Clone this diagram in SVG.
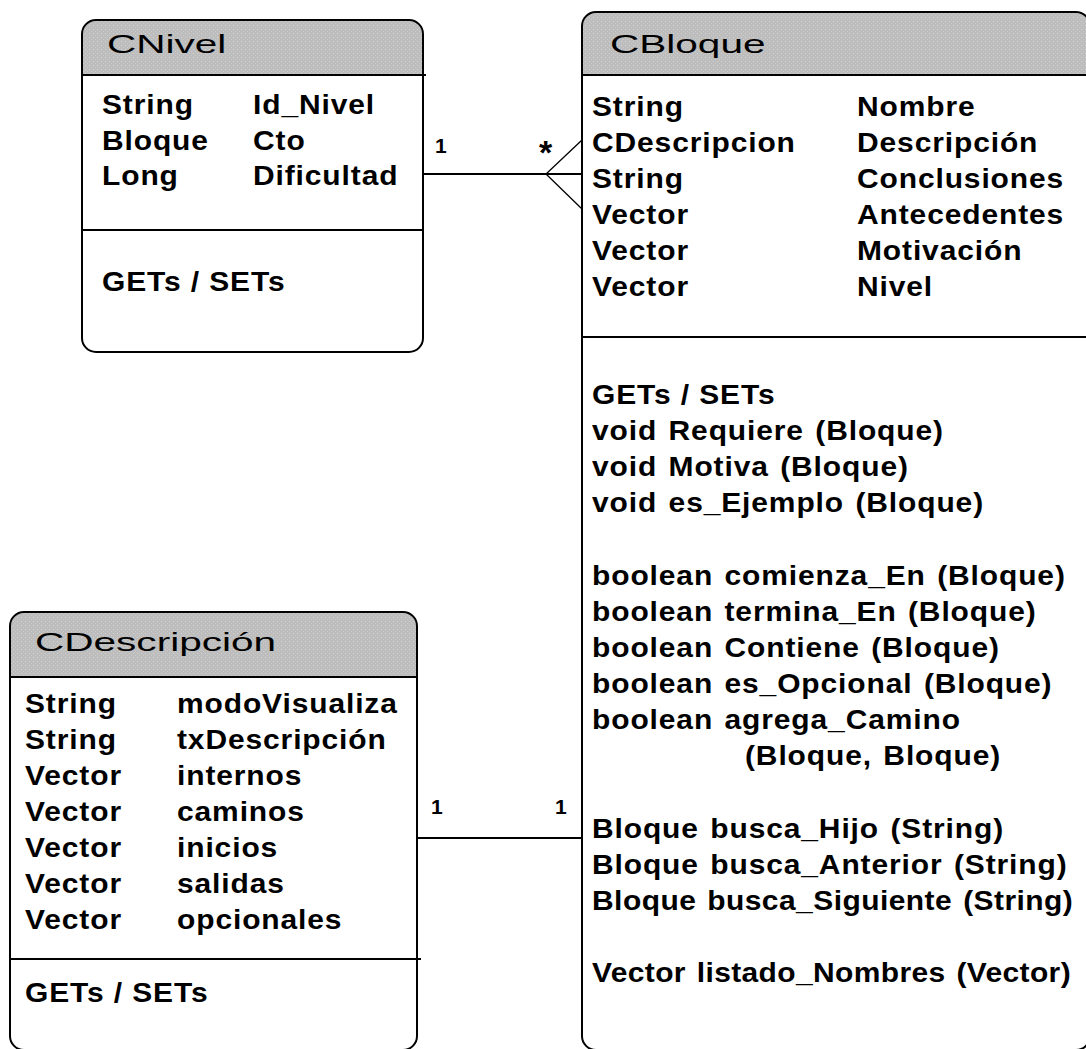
<svg xmlns="http://www.w3.org/2000/svg" width="1086" height="1049" viewBox="0 0 1086 1049">
  <defs>
    <!-- stippled grey used for the class name bars -->
    <pattern id="stipple" width="4" height="4" patternUnits="userSpaceOnUse">
      <rect width="4" height="4" fill="#bdbdbd"/>
      <rect x="1" y="1" width="1" height="1" fill="#d2d2d2"/>
      <rect x="3" y="3" width="1" height="1" fill="#cacaca"/>
    </pattern>
  </defs>
  <style>
    .box { fill: none; stroke: #000000; stroke-width: 2; }
    .bg { fill: #ffffff; stroke: none; }
    .head { fill: url(#stipple); stroke: none; }
    .rule { stroke: #000000; stroke-width: 2; fill: none; }
    .title { font-family: "Liberation Sans", Arial, sans-serif; font-size: 26px; fill: #000000; }
    .txt { font-family: "Liberation Sans", Arial, sans-serif; font-size: 27px; font-weight: bold; fill: #000000; letter-spacing: 0.8px; }
    .op { word-spacing: 2px; }
    .link { stroke: #000000; stroke-width: 2; fill: none; }
    .foot { stroke: #000000; stroke-width: 1.3; fill: none; }
    .mult { font-family: "Liberation Sans", Arial, sans-serif; font-size: 21px; font-weight: bold; fill: #000000; }
    .star { font-family: "Liberation Sans", Arial, sans-serif; font-size: 34px; font-weight: bold; fill: #000000; }
  </style>

  <rect width="1086" height="1049" fill="#ffffff"/>

  <!-- associations -->
  <g id="connectors">
    <line class="link" x1="423" y1="174" x2="582" y2="174"/>
    <polyline class="foot" points="582,140 546,174 582,209"/>
    <text class="mult" x="435" y="153">1</text>
    <text class="star" x="539" y="164">*</text>

    <line class="link" x1="417" y1="838" x2="582" y2="838"/>
    <text class="mult" x="431" y="814">1</text>
    <text class="mult" x="555" y="814">1</text>
  </g>

  <!-- class CNivel -->
  <g id="CNivel">
    <rect class="bg" x="82" y="20" width="341" height="332" rx="14" ry="14"/>
    <path class="head" d="M83,75 V34 Q83,21 96,21 H409 Q422,21 422,34 V75 Z"/>
    <rect class="box" x="82" y="20" width="341" height="332" rx="14" ry="14"/>
    <line class="rule" x1="82" y1="75" x2="426" y2="75"/>
    <line class="rule" x1="82" y1="230" x2="423" y2="230"/>
    <text class="title" transform="translate(107 53) scale(1.56 1)">CNivel</text>
    <g transform="translate(102 0) scale(1.11 1)">
      <text class="txt" y="114">String</text>
      <text class="txt" y="150">Bloque</text>
      <text class="txt" y="185">Long</text>
      <text class="txt" y="291">GETs / SETs</text>
    </g>
    <g transform="translate(253 0) scale(1.11 1)">
      <text class="txt" y="114">Id_Nivel</text>
      <text class="txt" y="150">Cto</text>
      <text class="txt" y="185">Dificultad</text>
    </g>
  </g>

  <!-- class CBloque -->
  <g id="CBloque">
    <rect class="bg" x="582" y="12" width="508" height="1038" rx="14" ry="14"/>
    <path class="head" d="M583,75 V26 Q583,13 596,13 H1076 Q1089,13 1089,26 V75 Z"/>
    <rect class="box" x="582" y="12" width="508" height="1038" rx="14" ry="14"/>
    <line class="rule" x1="582" y1="75" x2="1090" y2="75"/>
    <line class="rule" x1="582" y1="337" x2="1090" y2="337"/>
    <text class="title" transform="translate(610 53) scale(1.56 1)">CBloque</text>

    <g transform="translate(592 0) scale(1.11 1)">
      <text class="txt" y="116">String</text>
      <text class="txt" y="152">CDescripcion</text>
      <text class="txt" y="188">String</text>
      <text class="txt" y="224">Vector</text>
      <text class="txt" y="260">Vector</text>
      <text class="txt" y="296">Vector</text>

      <text class="txt" y="404">GETs / SETs</text>
      <text class="txt op" y="440">void Requiere (Bloque)</text>
      <text class="txt op" y="476">void Motiva (Bloque)</text>
      <text class="txt op" y="512">void es_Ejemplo (Bloque)</text>

      <text class="txt op" y="585">boolean comienza_En (Bloque)</text>
      <text class="txt op" y="621">boolean termina_En (Bloque)</text>
      <text class="txt op" y="657">boolean Contiene (Bloque)</text>
      <text class="txt op" y="693">boolean es_Opcional (Bloque)</text>
      <text class="txt op" y="729">boolean agrega_Camino</text>

      <text class="txt op" y="838">Bloque busca_Hijo (String)</text>
      <text class="txt op" y="874">Bloque busca_Anterior (String)</text>
      <text class="txt op" y="910" textLength="434" lengthAdjust="spacing">Bloque busca_Siguiente (String)</text>

      <text class="txt op" y="982" textLength="432" lengthAdjust="spacing">Vector listado_Nombres (Vector)</text>
    </g>
    <g transform="translate(745 0) scale(1.11 1)">
      <text class="txt op" y="765">(Bloque, Bloque)</text>
    </g>
    <g transform="translate(857 0) scale(1.11 1)">
      <text class="txt" y="116">Nombre</text>
      <text class="txt" y="152">Descripción</text>
      <text class="txt" y="188">Conclusiones</text>
      <text class="txt" y="224">Antecedentes</text>
      <text class="txt" y="260">Motivación</text>
      <text class="txt" y="296">Nivel</text>
    </g>
  </g>

  <!-- class CDescripción -->
  <g id="CDescripcion">
    <rect class="bg" x="10" y="612" width="407" height="438" rx="14" ry="14"/>
    <path class="head" d="M11,677 V626 Q11,613 24,613 H403 Q416,613 416,626 V677 Z"/>
    <rect class="box" x="10" y="612" width="407" height="438" rx="14" ry="14"/>
    <line class="rule" x1="10" y1="677" x2="417" y2="677"/>
    <line class="rule" x1="10" y1="959" x2="421" y2="959"/>
    <text class="title" transform="translate(35 651) scale(1.56 1)">CDescripción</text>

    <g transform="translate(25 0) scale(1.11 1)">
      <text class="txt" y="713">String</text>
      <text class="txt" y="749">String</text>
      <text class="txt" y="785">Vector</text>
      <text class="txt" y="821">Vector</text>
      <text class="txt" y="857">Vector</text>
      <text class="txt" y="893">Vector</text>
      <text class="txt" y="929">Vector</text>
      <text class="txt" y="1002">GETs / SETs</text>
    </g>
    <g transform="translate(177 0) scale(1.11 1)">
      <text class="txt" y="713">modoVisualiza</text>
      <text class="txt" y="749">txDescripción</text>
      <text class="txt" y="785">internos</text>
      <text class="txt" y="821">caminos</text>
      <text class="txt" y="857">inicios</text>
      <text class="txt" y="893">salidas</text>
      <text class="txt" y="929">opcionales</text>
    </g>
  </g>
</svg>
